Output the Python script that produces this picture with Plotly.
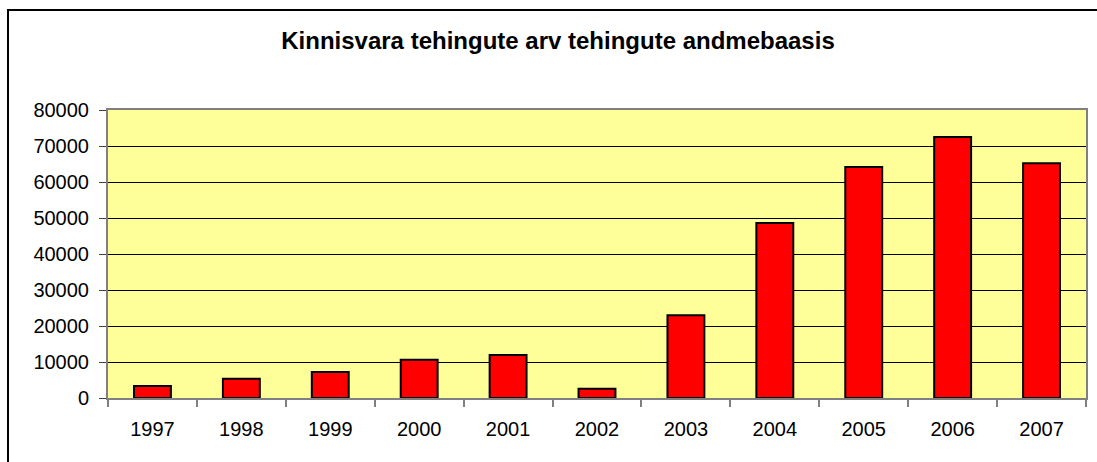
import plotly.graph_objects as go

years = ["1997", "1998", "1999", "2000", "2001", "2002", "2003", "2004", "2005", "2006", "2007"]
deals = [3300, 5350, 7200, 10650, 11950, 2600, 23000, 48600, 64200, 72500, 65200]
y_ticks = [0, 10000, 20000, 30000, 40000, 50000, 60000, 70000, 80000]
title_text = "Kinnisvara tehingute arv tehingute andmebaasis"

W, H = 1097, 462
L, R, T, B = 108, 1097 - 1086, 110, 462 - 398
pw, ph = W - L - R, H - T - B

fig = go.Figure(go.Bar(
    x=years, y=deals,
    marker=dict(color="#FF0000", line=dict(color="#000000", width=2)),
))

fig.update_layout(
    width=W, height=H,
    margin=dict(l=L, r=R, t=T, b=B, autoexpand=False),
    paper_bgcolor="white",
    plot_bgcolor="#FFFF99",
    bargap=0.585,
    showlegend=False,
    font=dict(family="Liberation Sans, Arial, sans-serif", color="black", size=20),
    title=dict(text="<b>" + title_text + "</b>", x=558 / W, xref="container", xanchor="center",
               y=1 - 41 / H, yref="container", yanchor="middle",
               font=dict(size=24, color="black")),
    xaxis=dict(
        type="category", showgrid=False, ticks="outside", tickson="boundaries",
        ticklen=7, tickcolor="#808080", tickwidth=2,
        showline=True, linecolor="#808080", linewidth=2, mirror=True,
        tickfont=dict(size=20), ticklabelstandoff=12,
    ),
    yaxis=dict(
        range=[0, 80000], tickvals=y_ticks, ticktext=[str(v) for v in y_ticks],
        showgrid=True, gridcolor="#000000", gridwidth=1,
        ticks="outside", ticklen=7, tickcolor="#404040", tickwidth=1,
        showline=True, linecolor="#808080", linewidth=2, mirror=True,
        zeroline=False, tickfont=dict(size=20), ticklabelstandoff=6,
    ),
    shapes=[dict(
        type="rect", xref="paper", yref="paper",
        x0=(8 - L) / pw, x1=(W + 5 - L) / pw,
        y0=-(B + 5) / ph, y1=(398 - 10) / ph,
        line=dict(color="#000000", width=2), fillcolor="rgba(0,0,0,0)", layer="above",
    )],
)

fig.write_html("out.html", config={"displayModeBar": False},
               post_script="document.body.style.margin='0';document.body.style.overflow='hidden';")
